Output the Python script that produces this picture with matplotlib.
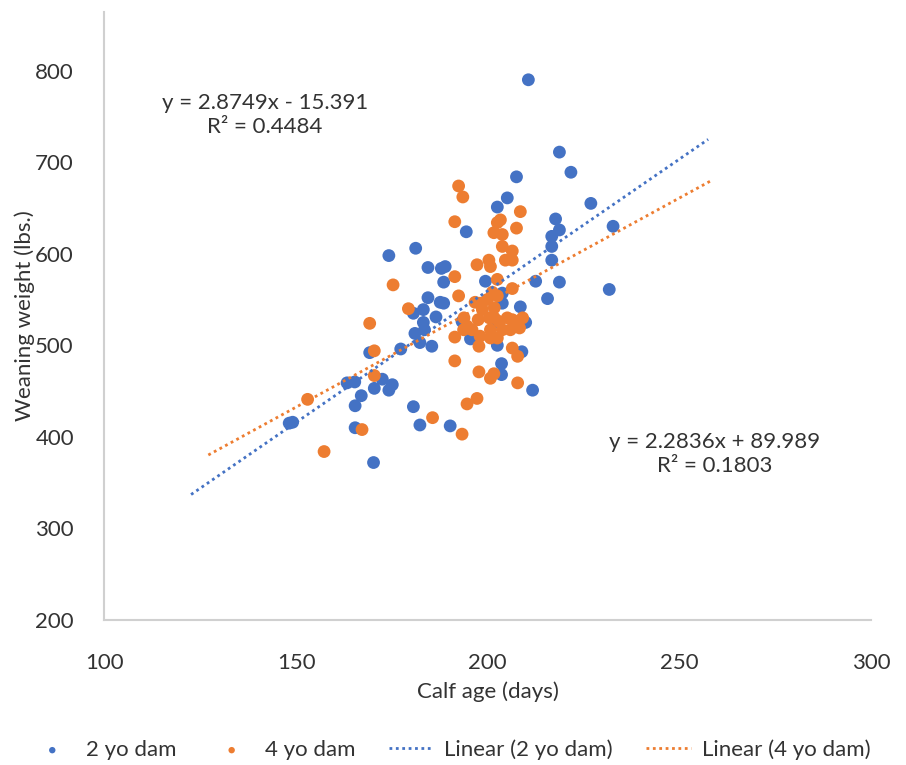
import matplotlib
matplotlib.use("Agg")
import matplotlib.pyplot as plt
import numpy as np

plt.rcParams['font.family'] = ['Lato', 'DejaVu Sans']

# 2 yo dam (blue)
age_2yo = [210.6, 218.7, 221.7, 207.5, 205.1, 202.5, 226.9, 232.7, 217.7, 218.7,
           216.7, 216.7, 216.7, 194.4, 188.9, 188.5, 199.4, 212.5, 218.7, 231.7,
           215.6, 208.5, 203.8, 203.8, 174.2, 181.2, 184.4, 187.9, 184.4, 187.6,
           180.6, 183.2, 186.5, 183.2, 183.5, 181.0, 182.3, 185.4, 177.3, 169.2,
           193.3, 195.5, 163.3, 165.3, 172.5, 170.4, 175.1, 174.2, 167.0, 165.4,
           148.2, 149.1, 180.6, 182.3, 190.2, 165.4, 170.2, 188.5, 202.5, 209.9,
           202.5, 208.9, 203.6, 203.6, 211.7]
wt_2yo = [790, 711, 689, 684, 661, 651, 655, 630, 638, 626,
          619, 608, 593, 624, 586, 569, 570, 570, 569, 561,
          551, 542, 557, 546, 598, 606, 585, 584, 552, 547,
          535, 539, 531, 525, 517, 513, 503, 499, 496, 492,
          526, 507, 459, 460, 463, 453, 457, 451, 445, 434,
          415, 416, 433, 413, 412, 410, 372, 546, 526, 525,
          500, 493, 480, 468, 451]

# 4 yo dam (orange)
age_4yo = [192.4, 193.5, 191.4, 208.5, 203.3, 202.5, 207.5, 201.6, 203.8, 203.8,
           206.4, 204.6, 206.4, 197.2, 200.3, 200.7, 191.4, 202.5, 206.4, 192.4,
           175.3, 179.3, 169.2, 191.4, 170.4, 191.4, 170.4, 153.0, 185.6, 167.2,
           193.3, 194.6, 197.2, 197.7, 197.7, 157.3, 200.7, 202.5, 206.4, 207.8,
           201.6, 200.7, 207.8, 195.9, 197.5, 198.6, 199.9, 201.2, 198.0, 200.4,
           196.7, 201.7, 202.5, 201.7, 203.0, 205.1, 206.4, 207.8, 209.1, 203.8,
           205.9, 208.3, 200.7, 198.0, 194.6, 193.8, 193.7]
wt_4yo = [674, 662, 635, 646, 637, 634, 628, 623, 621, 608,
          603, 593, 593, 588, 593, 586, 575, 572, 562, 554,
          566, 540, 524, 509, 494, 483, 467, 441, 421, 408,
          403, 436, 442, 499, 471, 384, 508, 508, 497, 488,
          469, 464, 459, 517, 528, 539, 550, 558, 546, 530,
          547, 541, 554, 530, 526, 530, 528, 526, 530, 517,
          517, 519, 517, 510, 521, 530, 517]

# Trendline coefficients (from chart labels) and drawn ranges
slope_2yo, icpt_2yo = 2.8749, -15.391
slope_4yo, icpt_4yo = 2.2836, 89.989
trend_x_2yo = [122.6, 257.5]
trend_x_4yo = [127.1, 258.5]

blue = '#4472C4'
orange = '#ED7D31'
txt = '#333333'
FS = 16

fig = plt.figure(figsize=(9.06, 7.65), dpi=100)
ax = fig.add_axes([0.1153, 0.1895, 0.9614 - 0.1153, 0.9843 - 0.1895])

ax.scatter(age_2yo, wt_2yo, s=85, color=blue, edgecolors='none', zorder=3, label='2 yo dam')
ax.scatter(age_4yo, wt_4yo, s=85, color=orange, edgecolors='none', zorder=3, label='4 yo dam')

tx2 = np.array(trend_x_2yo)
tx4 = np.array(trend_x_4yo)
ax.plot(tx2, slope_2yo * tx2 + icpt_2yo, linestyle=(0, (1, 1.3)), color=blue, lw=2, zorder=4,
        label='Linear (2 yo dam)')
ax.plot(tx4, slope_4yo * tx4 + icpt_4yo, linestyle=(0, (1, 1.3)), color=orange, lw=2, zorder=4,
        label='Linear (4 yo dam)')

ax.set_xlim(100, 300)
ax.set_ylim(200, 864)
ax.set_xticks([100, 150, 200, 250, 300])
ax.set_yticks([200, 300, 400, 500, 600, 700, 800])
ax.tick_params(length=0, labelsize=FS, colors=txt)
ax.tick_params(axis='x', pad=24)
ax.tick_params(axis='y', pad=22)
for s in ['top', 'right']:
    ax.spines[s].set_visible(False)
for s in ['left', 'bottom']:
    ax.spines[s].set_color('#D0D0D0')
    ax.spines[s].set_linewidth(1.5)

ax.set_xlabel('Calf age (days)', fontsize=FS, color=txt, labelpad=6)
ax.set_ylabel('Weaning weight (lbs.)', fontsize=FS, color=txt, labelpad=0)

ax.text(0.2094, 0.8306, 'y = 2.8749x - 15.391\nR² = 0.4484', transform=ax.transAxes,
        ha='center', va='center', fontsize=FS, color=txt, linespacing=1.25)
ax.text(0.7965, 0.2738, 'y = 2.2836x + 89.989\nR² = 0.1803', transform=ax.transAxes,
        ha='center', va='center', fontsize=FS, color=txt, linespacing=1.25)

leg = fig.legend(loc='center', bbox_to_anchor=(0.497, 0.02), ncol=4, frameon=False,
                 fontsize=FS, handlelength=2.0, columnspacing=1.5, handletextpad=0.5,
                 markerscale=0.5)
for t in leg.get_texts():
    t.set_color(txt)

fig.savefig('out.png', dpi=100)
